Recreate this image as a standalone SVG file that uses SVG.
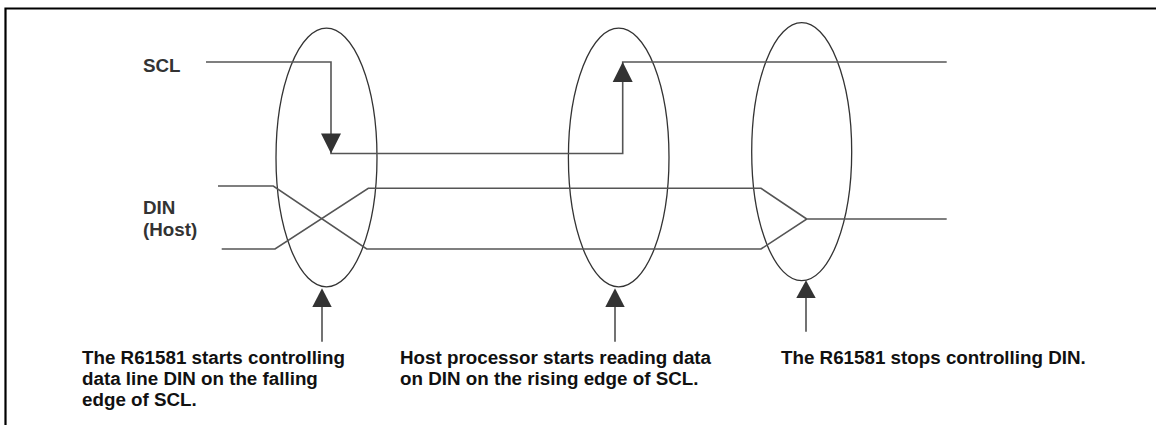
<svg xmlns="http://www.w3.org/2000/svg" width="1156" height="425" viewBox="0 0 1156 425">
<style>
.frame{fill:none;stroke:#000;stroke-width:2.2}
.sig{fill:none;stroke:#555;stroke-width:1.6}
.ell{fill:none;stroke:#333;stroke-width:1.3}
.ptr{fill:none;stroke:#444;stroke-width:1.5}
.head{fill:#333}
.lbl{font-family:"Liberation Sans",Arial,sans-serif;font-weight:bold;font-size:18.8px;fill:#333}
.note{font-family:"Liberation Sans",Arial,sans-serif;font-weight:bold;font-size:18.8px;fill:#111}
</style>
<rect width="1156" height="425" fill="#fff"/>
<path class="frame" d="M5.5,425 V8.5 H1156"/>
<g id="labels">
<text class="lbl" x="143" y="71.5">SCL</text>
<text class="lbl" x="143" y="213.5">DIN</text>
<text class="lbl" x="143" y="236">(Host)</text>
</g>
<g id="ellipse1"><ellipse class="ell" cx="326.5" cy="157.5" rx="50.5" ry="129.3"/></g>
<g id="ellipse2"><ellipse class="ell" cx="618.7" cy="157.5" rx="50.3" ry="129.3"/></g>
<g id="ellipse3"><ellipse class="ell" cx="801.7" cy="151.7" rx="50" ry="129"/></g>
<g id="connectors">
<path class="sig" d="M206,62 H331 V153.5 H622.7 V62 H946.7"/>
<polygon class="head" points="321,133.5 341,133.5 331,153.5"/>
<polygon class="head" points="612.7,82 632.7,82 622.7,62"/>
<path class="sig" d="M218,186 H273.3 L366.7,249 H761 L806.7,219 H946.7"/>
<path class="sig" d="M221.7,249 H275 L368.3,188.3 H761 L806.7,219"/>
<line class="ptr" x1="322" y1="306" x2="322" y2="341.7"/>
<polygon class="head" points="312.3,307 331.7,307 322,288.3"/>
<line class="ptr" x1="615" y1="306" x2="615" y2="341.7"/>
<polygon class="head" points="605.3,307 624.7,307 615,288.3"/>
<line class="ptr" x1="806" y1="297" x2="806" y2="331.7"/>
<polygon class="head" points="796.3,298 815.7,298 806,280.3"/>
</g>
<g id="note1">
<text class="note" x="82" y="363.5">The R61581 starts controlling</text>
<text class="note" x="82" y="384.8">data line DIN on the falling</text>
<text class="note" x="82" y="406">edge of SCL.</text>
</g>
<g id="note2">
<text class="note" x="400" y="363.5">Host processor starts reading data</text>
<text class="note" x="400" y="384.8">on DIN on the rising edge of SCL.</text>
</g>
<g id="note3">
<text class="note" x="781" y="363.5">The R61581 stops controlling DIN.</text>
</g>
</svg>
